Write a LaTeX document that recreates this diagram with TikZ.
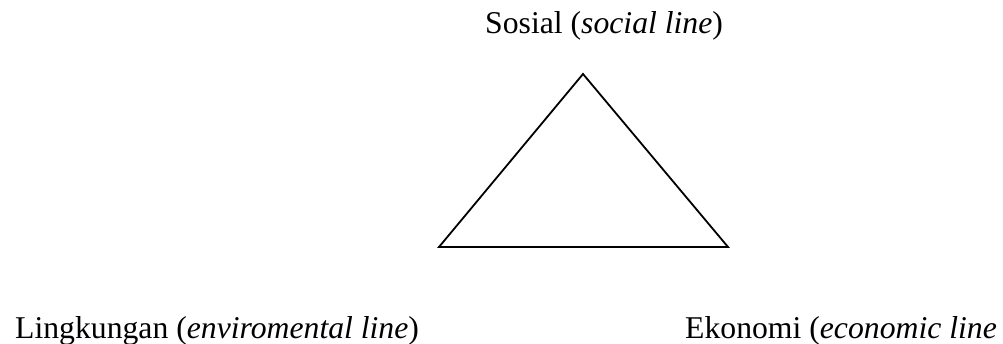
\documentclass[tikz,border=0pt]{standalone}
\usepackage{fontspec}
\setmainfont{Liberation Serif}
\begin{document}
\begin{tikzpicture}[x=1pt,y=1pt,
  lbl/.style={inner sep=0pt,anchor=base west,font=\fontsize{31.7}{38}\selectfont},
  edge/.style={line width=1.8pt,line join=miter}]
\clip (0,0) rectangle (1003,344);
\fill[white] (0,0) rectangle (1003,344);
\coordinate (top) at (583,270);
\coordinate (left) at (439,97);
\coordinate (right) at (728,97);
\draw[edge] (top) -- (left) -- (right) -- cycle;
\node[lbl] (sos) at (485,310) {Sosial (\textit{social line})};
\node[lbl] (ling) at (15,5) {Lingkungan (\textit{enviromental line})};
\node[lbl] (eko) at (685,5) {Ekonomi (\textit{economic line}};
\end{tikzpicture}
\end{document}
